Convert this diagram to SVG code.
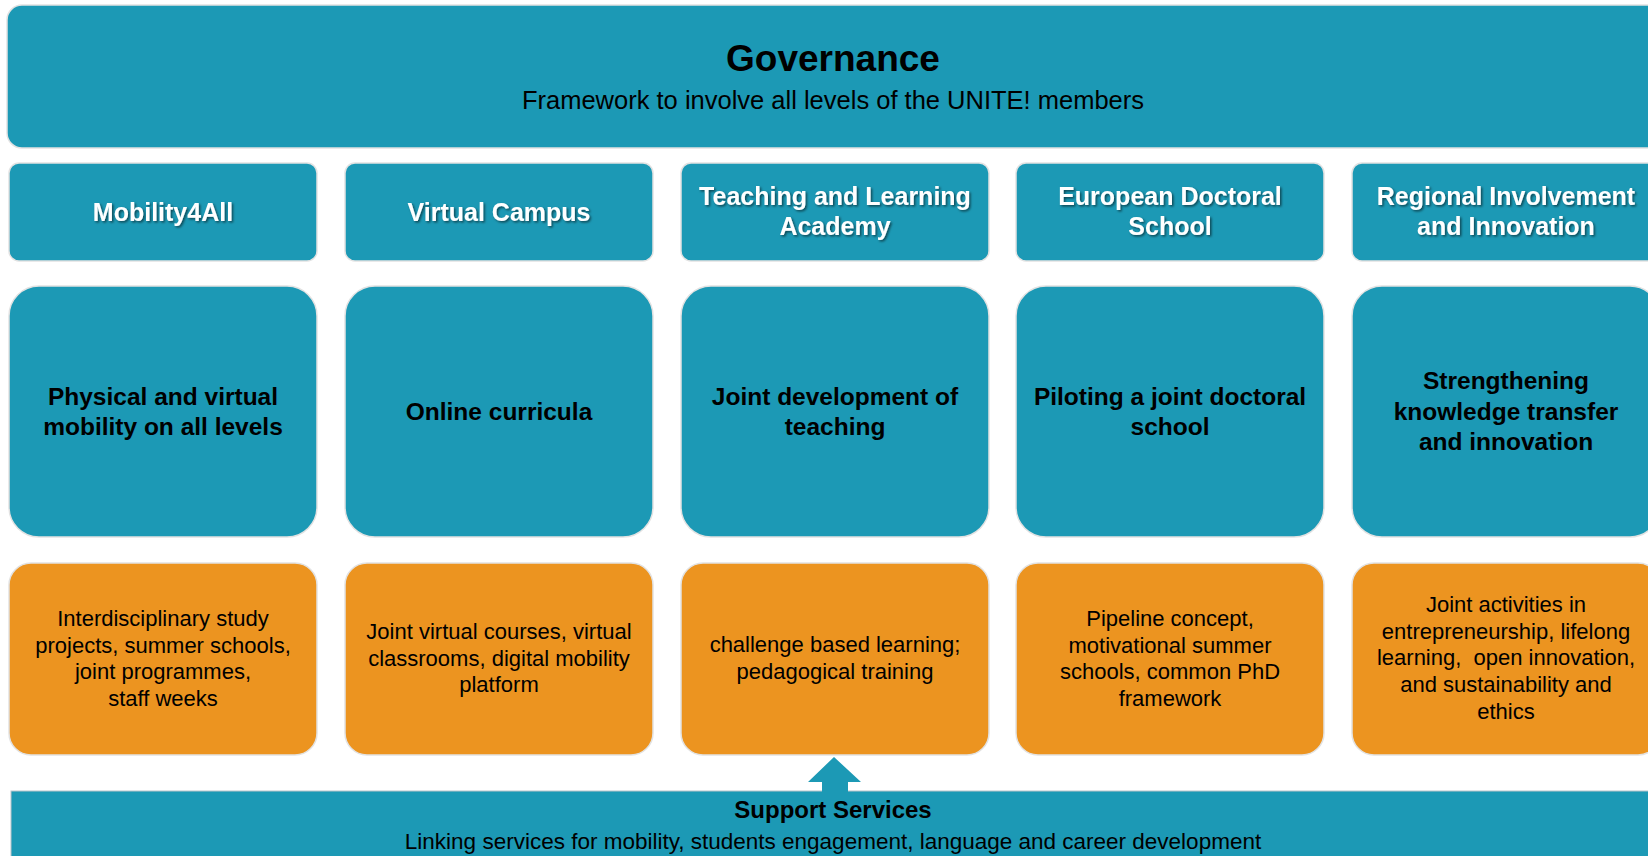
<svg xmlns="http://www.w3.org/2000/svg" width="1648" height="856" viewBox="0 0 1648 856">
  <defs>
    <filter id="ts" x="-10%" y="-30%" width="120%" height="160%">
      <feDropShadow dx="1.5" dy="1.5" stdDeviation="0.8" flood-color="#000" flood-opacity="0.55"/>
    </filter>
  </defs>
  <style>
    .teal { fill: #1C99B5; stroke: #e2e2e2; stroke-width: 1.5; }
    .orange { fill: #EC9420; stroke: #e2e2e2; stroke-width: 1.5; }
    text { font-family: "Liberation Sans", Arial, sans-serif; text-anchor: middle; }
    .hdr { fill: #ffffff; font-weight: bold; font-size: 25px; filter: url(#ts); }
    .mid { fill: #000; font-weight: bold; font-size: 24.5px; }
    .bot { fill: #000; font-size: 22px; }
  </style>
  <rect width="1648" height="856" fill="#ffffff"/>

  <g id="governance">
    <rect class="teal" x="7" y="5" width="1700" height="143" rx="15"/>
    <text x="833" y="71" font-size="37" font-weight="bold" fill="#000">Governance</text>
    <text x="833" y="109" font-size="25.5" fill="#000">Framework to involve all levels of the UNITE! members</text>
  </g>

  <g id="hdr-mobility">
    <rect class="teal" x="9" y="163" width="308" height="98" rx="10"/>
    <text class="hdr" x="163" y="221">Mobility4All</text>
  </g>
  <g id="hdr-virtual">
    <rect class="teal" x="345" y="163" width="308" height="98" rx="10"/>
    <text class="hdr" x="499" y="221">Virtual Campus</text>
  </g>
  <g id="hdr-teaching">
    <rect class="teal" x="681" y="163" width="308" height="98" rx="10"/>
    <text class="hdr" x="835" y="205">Teaching and Learning</text>
    <text class="hdr" x="835" y="235">Academy</text>
  </g>
  <g id="hdr-doctoral">
    <rect class="teal" x="1016" y="163" width="308" height="98" rx="10"/>
    <text class="hdr" x="1170" y="205">European Doctoral</text>
    <text class="hdr" x="1170" y="235">School</text>
  </g>
  <g id="hdr-regional">
    <rect class="teal" x="1352" y="163" width="308" height="98" rx="10"/>
    <text class="hdr" x="1506" y="205">Regional Involvement</text>
    <text class="hdr" x="1506" y="235">and Innovation</text>
  </g>

  <g id="mid-mobility">
    <rect class="teal" x="9" y="286" width="308" height="251" rx="30"/>
    <text class="mid" x="163" y="405">Physical and virtual</text>
    <text class="mid" x="163" y="435">mobility on all levels</text>
  </g>
  <g id="mid-virtual">
    <rect class="teal" x="345" y="286" width="308" height="251" rx="30"/>
    <text class="mid" x="499" y="420">Online curricula</text>
  </g>
  <g id="mid-teaching">
    <rect class="teal" x="681" y="286" width="308" height="251" rx="30"/>
    <text class="mid" x="835" y="405">Joint development of</text>
    <text class="mid" x="835" y="435">teaching</text>
  </g>
  <g id="mid-doctoral">
    <rect class="teal" x="1016" y="286" width="308" height="251" rx="30"/>
    <text class="mid" x="1170" y="405">Piloting a joint doctoral</text>
    <text class="mid" x="1170" y="435">school</text>
  </g>
  <g id="mid-regional">
    <rect class="teal" x="1352" y="286" width="308" height="251" rx="30"/>
    <text class="mid" x="1506" y="389">Strengthening</text>
    <text class="mid" x="1506" y="420">knowledge transfer</text>
    <text class="mid" x="1506" y="450">and innovation</text>
  </g>

  <g id="bot-mobility">
    <rect class="orange" x="9" y="563" width="308" height="192" rx="22"/>
    <text class="bot" x="163" y="626">Interdisciplinary study</text>
    <text class="bot" x="163" y="653">projects, summer schools,</text>
    <text class="bot" x="163" y="679">joint programmes,</text>
    <text class="bot" x="163" y="706">staff weeks</text>
  </g>
  <g id="bot-virtual">
    <rect class="orange" x="345" y="563" width="308" height="192" rx="22"/>
    <text class="bot" x="499" y="639">Joint virtual courses, virtual</text>
    <text class="bot" x="499" y="666">classrooms, digital mobility</text>
    <text class="bot" x="499" y="692">platform</text>
  </g>
  <g id="bot-teaching">
    <rect class="orange" x="681" y="563" width="308" height="192" rx="22"/>
    <text class="bot" x="835" y="652">challenge based learning;</text>
    <text class="bot" x="835" y="679">pedagogical training</text>
  </g>
  <g id="bot-doctoral">
    <rect class="orange" x="1016" y="563" width="308" height="192" rx="22"/>
    <text class="bot" x="1170" y="626">Pipeline concept,</text>
    <text class="bot" x="1170" y="653">motivational summer</text>
    <text class="bot" x="1170" y="679">schools, common PhD</text>
    <text class="bot" x="1170" y="706">framework</text>
  </g>
  <g id="bot-regional">
    <rect class="orange" x="1352" y="563" width="308" height="192" rx="22"/>
    <text class="bot" x="1506" y="612">Joint activities in</text>
    <text class="bot" x="1506" y="639">entrepreneurship, lifelong</text>
    <text class="bot" x="1506" y="665" xml:space="preserve">learning,  open innovation,</text>
    <text class="bot" x="1506" y="692">and sustainability and</text>
    <text class="bot" x="1506" y="719">ethics</text>
  </g>

  <g id="support">
    <rect x="11" y="791" width="1700" height="100" fill="#1C99B5" stroke="#b9c3c9" stroke-width="1"/>
    <text x="833" y="818" font-size="24" font-weight="bold" fill="#000">Support Services</text>
    <text x="833" y="849" font-size="22.5" fill="#000">Linking services for mobility, students engagement, language and career development</text>
  </g>

  <g id="connectors">
    <polygon points="822,792 822,782 808,782 834,757 861,782 848,782 848,792" fill="#1C99B5"/>
  </g>
</svg>
